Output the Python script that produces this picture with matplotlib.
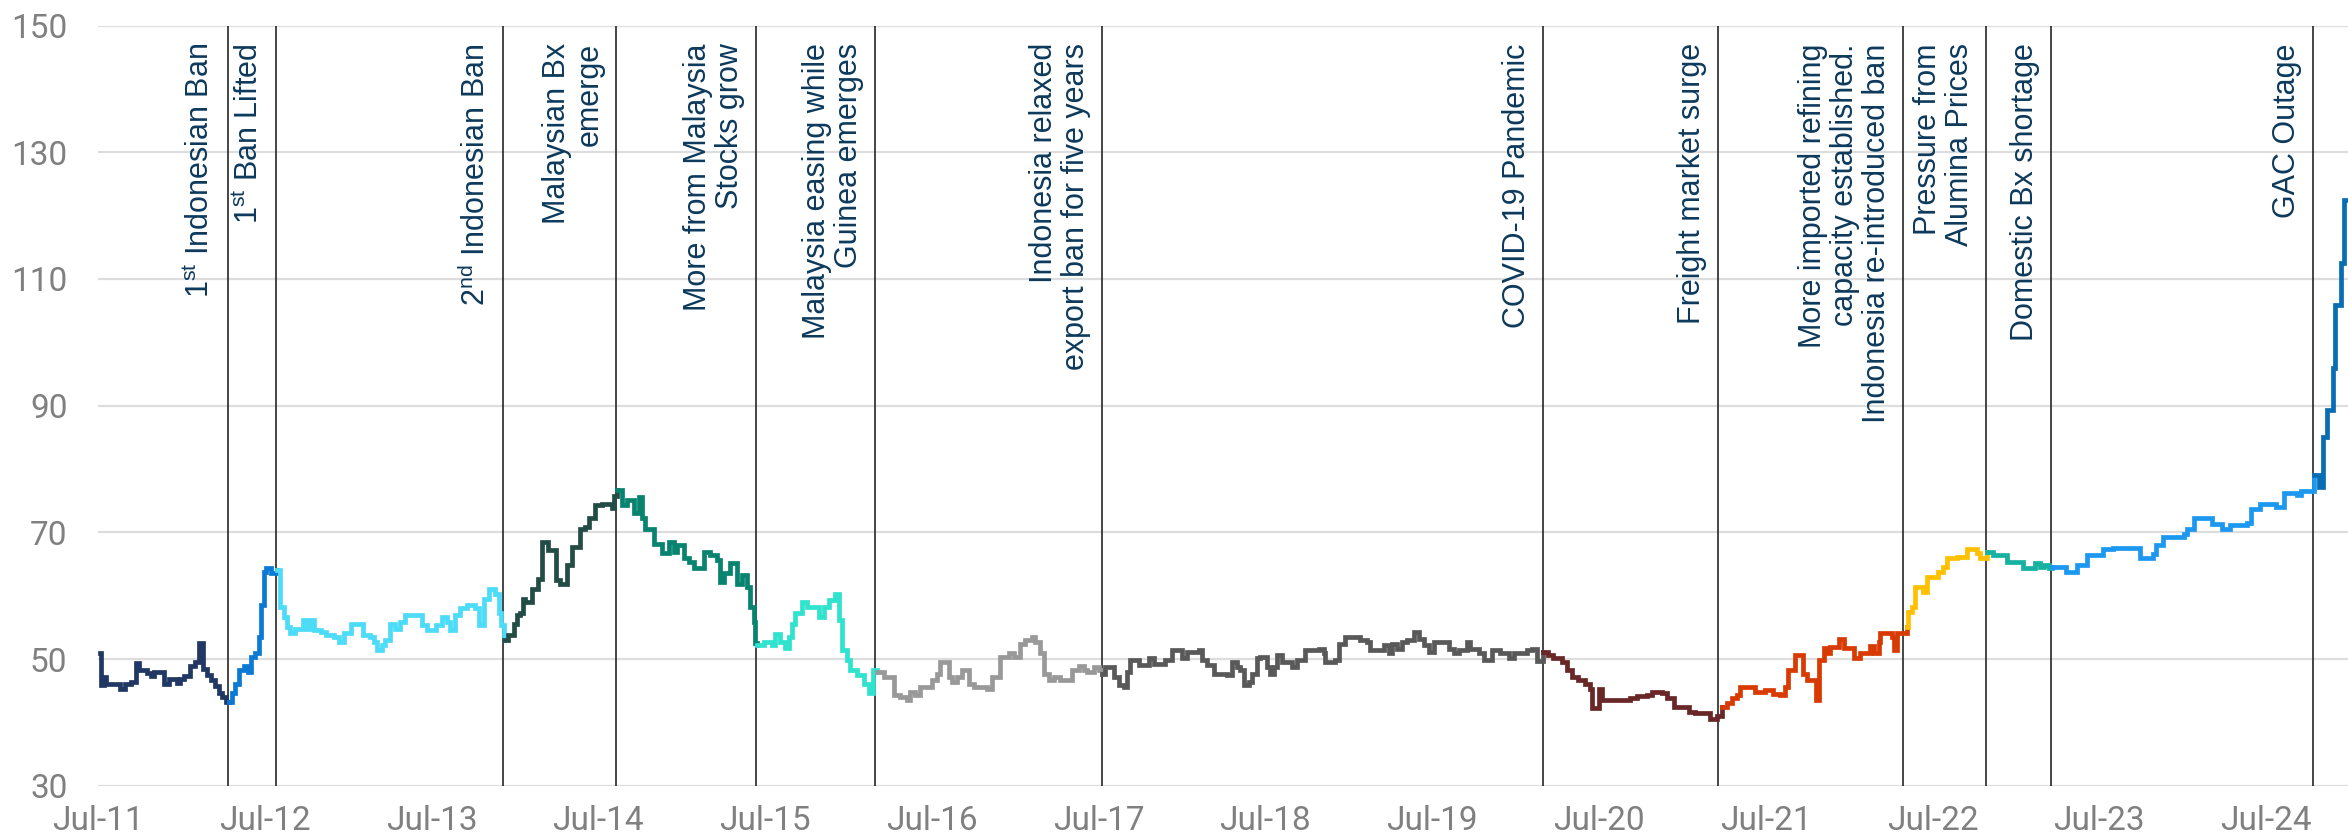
import numpy as np
import matplotlib
matplotlib.use("Agg")
import matplotlib.pyplot as plt

plt.rcParams['mathtext.fontset'] = 'custom'
plt.rcParams['mathtext.rm'] = 'Liberation Sans'
plt.rcParams['mathtext.it'] = 'Liberation Sans:italic'
plt.rcParams['mathtext.bf'] = 'Liberation Sans:bold'

# x = months since Jul-2011, y = price index (weekly series)
months = [
    0.11, 0.18, 0.42, 0.54, 1.57, 1.93, 2.34, 2.70, 2.94, 3.54, 3.78, 4.06, 4.74, 5.10, 5.65, 5.89, 6.22,
    6.61, 7.01, 7.28, 7.57, 7.85, 8.14, 8.45, 8.69, 8.93, 9.24,
    9.41, 9.65, 9.89, 10.13, 10.49, 10.80, 11.02, 11.33, 11.57, 11.76, 11.91, 12.12, 12.46,
    12.89, 13.08, 13.37, 13.61, 13.85, 14.21, 14.76, 15.05, 15.36, 15.57, 16.01, 16.37, 16.97, 17.33,
    17.69, 18.17, 19.08, 19.60, 19.89, 20.08, 20.44, 20.68, 20.99, 21.40, 21.76, 22.12, 23.32, 23.68,
    24.35, 24.76, 25.12, 25.36, 25.72, 26.08, 26.56, 27.16, 27.40, 27.76, 28.12, 28.60, 28.84, 29.01,
    29.20, 29.49, 29.92, 30.16, 30.40, 30.59, 30.76, 31.24, 31.67, 31.96, 32.36, 32.92, 33.27, 33.75,
    34.11, 34.71, 35.03, 35.31, 35.79, 36.27, 36.99, 37.16,
    37.35, 37.71, 38.07, 38.55, 38.91, 39.15, 39.39, 39.99, 40.59, 41.07, 41.43, 41.67, 42.15, 42.51,
    42.87, 43.59, 44.07, 44.55, 44.79, 45.03, 45.51, 45.98, 46.34, 46.70, 46.94, 47.18, 47.30,
    47.42, 47.90, 48.50, 48.74, 49.10, 49.46, 49.70, 49.94, 50.18, 50.66, 51.02, 51.86, 52.22, 52.58,
    53.06, 53.30, 53.54, 53.90, 54.14, 54.62, 55.10, 55.46, 55.75,
    56.06, 56.54, 57.26, 57.74, 58.22, 58.46, 58.82, 59.18, 60.02, 60.38, 60.62, 61.21, 61.45, 61.81,
    62.17, 62.65, 63.01, 63.97, 64.33, 64.93, 65.53, 65.89, 66.37, 66.73, 67.21, 67.45, 67.81, 68.05,
    68.41, 68.77, 69.25, 70.09, 70.57, 70.93, 71.17, 71.65, 72.01,
    72.25, 72.49, 73.09, 73.45, 73.80, 74.04, 74.28, 74.88, 75.60, 75.96, 76.56, 76.80, 77.28, 77.99,
    78.36, 79.20, 79.44, 79.80, 80.28, 81.24, 81.60, 81.96, 82.20, 82.44, 82.80, 83.04, 83.40, 83.63,
    84.11, 84.35, 84.59, 84.83, 85.19, 85.91, 86.27, 86.87, 87.83, 88.19, 88.31, 89.03, 89.27, 89.74,
    90.82, 91.30, 91.54, 92.50, 92.86, 93.10, 93.46, 93.82, 94.18, 94.66, 95.02, 95.38, 95.74, 96.10,
    97.18, 97.54, 97.90, 98.50, 98.74, 99.34, 99.70, 100.30, 100.90, 101.50, 101.86, 102.81, 103.17,
    103.53,
    104.01, 104.37, 104.73, 105.33, 105.69, 106.05, 106.53, 107.01, 107.37, 107.49, 107.97, 108.21,
    110.25, 110.73, 111.45, 111.81, 112.53, 112.89, 113.37, 114.45, 114.93, 116.01, 116.49,
    116.85, 117.20, 117.56, 117.92, 118.16, 119.24, 119.96, 120.56, 121.04, 121.40, 121.64, 122.12,
    122.72, 122.96, 123.63, 123.87, 124.16, 124.40, 124.64, 125.24, 125.60, 126.32, 126.80, 127.52,
    127.76, 128.12, 128.24, 129.08, 129.20, 129.44,
    130.15, 130.27, 130.51, 130.75, 131.35, 131.59, 132.43, 132.79, 133.03, 133.75, 134.47, 135.19,
    135.43,
    135.91, 136.39, 137.35, 138.55, 139.39, 139.75, 140.00, 140.40,
    140.60, 141.60, 142.40, 143.10, 144.30, 145.00, 146.20, 146.90, 147.90, 148.10, 148.60, 150.10,
    150.30, 150.80, 152.10, 152.80, 153.40, 154.60, 154.90, 155.60, 156.70, 157.30, 158.20, 158.50,
    159.30,
    159.45, 159.80, 160.10, 160.40, 160.80, 161.00, 161.40, 161.60, 161.90,
]
price = [
    51.0, 45.9, 47.1, 46.0, 45.3, 46.1, 46.4, 49.4, 48.2, 47.8, 47.3, 48.0, 46.1, 46.8, 46.2, 46.9, 47.3,
    48.9, 49.5, 52.6, 48.5, 47.4, 46.7, 45.8, 44.6, 44.0, 43.2,
    43.2, 44.6, 46.1, 48.2, 48.9, 48.0, 50.3, 50.9, 53.5, 58.5, 63.8, 64.4, 63.5,
    64.0, 58.2, 56.7, 55.1, 54.1, 54.8, 56.1, 54.8, 56.1, 54.6, 54.3, 53.8, 53.5, 52.7,
    54.1, 55.5, 53.8, 53.5, 52.7, 51.4, 52.2, 53.0, 55.6, 54.8, 55.9, 56.9, 55.4, 54.6,
    55.4, 56.6, 55.9, 54.6, 56.9, 58.0, 58.5, 58.0, 55.4, 59.5, 61.1, 60.3, 57.2, 55.4,
    53.0, 53.8, 55.5, 56.9, 57.2, 59.5, 59.0, 61.1, 62.7, 68.5, 67.2, 62.4, 61.9, 64.8,
    67.7, 70.5, 70.9, 72.2, 74.3, 74.5, 73.8, 75.8,
    76.7, 74.3, 75.1, 73.0, 75.6, 72.2, 70.6, 68.2, 66.7, 68.5, 66.9, 68.0, 65.9, 65.3,
    64.3, 66.9, 66.4, 65.6, 62.2, 63.5, 65.1, 61.9, 63.2, 61.4, 58.2, 55.9, 52.5,
    52.2, 52.7, 52.2, 54.0, 52.7, 51.7, 53.5, 55.6, 57.2, 59.0, 58.2, 56.6, 58.2, 59.3,
    60.2, 56.1, 51.4, 49.8, 48.2, 47.4, 46.1, 44.6, 48.2,
    48.0, 47.2, 44.3, 44.0, 43.5, 44.8, 44.3, 45.6, 46.7, 47.7, 49.6, 47.2, 46.4, 47.2,
    48.2, 46.1, 45.6, 45.2, 47.2, 50.3, 50.9, 50.3, 52.4, 53.0, 53.5, 52.7, 50.9, 47.7,
    46.7, 47.2, 46.7, 48.2, 48.9, 48.2, 47.9, 48.8, 48.2,
    47.7, 48.8, 47.2, 45.9, 45.6, 48.0, 49.8, 49.0, 50.1, 49.2, 49.2, 49.8, 51.4, 50.1,
    51.1, 51.4, 49.8, 49.0, 47.7, 47.4, 49.6, 48.8, 48.2, 45.9, 46.4, 47.7, 50.1, 50.3,
    48.8, 47.7, 48.8, 50.6, 49.6, 48.8, 49.8, 51.4, 51.6, 50.9, 49.6, 49.9, 52.4, 53.5,
    53.0, 52.7, 51.4, 52.2, 50.9, 52.4, 51.6, 52.7, 53.0, 54.3, 53.2, 52.2, 51.1, 52.7,
    51.6, 50.9, 51.4, 52.7, 51.6, 50.9, 49.8, 51.4, 50.9, 50.1, 50.9, 51.4, 51.6,
    49.7,
    51.1, 50.6, 50.1, 49.6, 48.2, 47.2, 46.7, 46.1, 45.3, 42.2, 45.2, 43.5,
    43.8, 44.1, 44.3, 44.8, 44.6, 43.8, 42.5, 41.7, 41.4, 40.6, 41.0,
    42.4, 43.0, 43.8, 44.3, 45.6, 44.8, 45.1, 44.5, 44.3, 45.6, 48.2, 50.6,
    47.7, 46.7, 43.5, 49.8, 51.7, 50.9, 51.9, 53.1, 51.7, 50.2, 50.9, 52.1,
    50.9, 52.7, 54.1, 53.5, 51.4, 54.1,
    55.1, 57.4, 58.2, 61.4, 60.6, 63.0, 63.8, 64.6, 65.9, 66.1, 67.3, 66.7,
    65.9,
    66.9, 66.4, 65.3, 64.3, 65.1, 64.6, 64.8, 64.3,
    64.5, 63.7, 64.8, 66.4, 67.3, 67.6, 67.5, 66.0, 66.5, 68.0, 69.3, 69.8,
    70.6, 72.3, 71.3, 70.6, 71.1, 71.4, 73.6, 74.4, 74.0, 76.2, 75.9, 76.5,
    76.5,
    79.0, 77.2, 85.1, 89.3, 95.9, 105.9, 112.5, 122.4, 122.4,
]

event_months = [9.32, 12.79, 29.15, 37.25, 47.37, 55.94, 72.24, 104.01, 116.60,
                129.91, 135.86, 140.56, 159.37]
event_labels = [
    r"1$^{\mathrm{st}}$ Indonesian Ban",
    r"1$^{\mathrm{st}}$ Ban Lifted",
    r"2$^{\mathrm{nd}}$ Indonesian Ban",
    "Malaysian Bx\nemerge",
    "More from Malaysia\nStocks grow",
    "Malaysia easing while\nGuinea emerges",
    "Indonesia relaxed\nexport ban for five years",
    "COVID-19 Pandemic",
    "Freight market surge",
    "More imported refining\ncapacity established.\nIndonesia re-introduced ban",
    "Pressure from\nAlumina Prices",
    "Domestic Bx shortage",
    "GAC Outage",
]
segment_colors = ['#213864', '#0B7AD4', '#4CDCF8', '#234C45', '#08836F', '#30E3CF',
                  '#999999', '#595959', '#6A2727', '#D83B01', '#FFC000', '#16B1A0',
                  '#1C98F0', '#086DB3']

tick_months = [0, 12, 24, 36, 48, 60, 72, 84, 96, 108, 120, 132, 144, 156]
tick_labels = ['Jul-11', 'Jul-12', 'Jul-13', 'Jul-14', 'Jul-15', 'Jul-16', 'Jul-17',
               'Jul-18', 'Jul-19', 'Jul-20', 'Jul-21', 'Jul-22', 'Jul-23', 'Jul-24']
y_ticks = [30, 50, 70, 90, 110, 130, 150]

fig = plt.figure(figsize=(23.48, 8.4), dpi=100)
ax = fig.add_axes([0.04174, 0.06464, 0.95826, 0.905])

m = np.array(months)
p = np.array(price)
bounds = [-np.inf] + event_months + [np.inf]
for i, col in enumerate(segment_colors):
    idx = np.where((m >= bounds[i]) & (m < bounds[i + 1]))[0]
    if len(idx) == 0:
        continue
    if idx[-1] + 1 < len(m):
        idx = np.append(idx, idx[-1] + 1)
    ax.plot(m[idx], p[idx], color=col, lw=3.4, drawstyle='steps-post',
            solid_joinstyle='miter', zorder=3)

for em, lab in zip(event_months, event_labels):
    ax.axvline(em, color='#262626', lw=1.2, zorder=2)
    ax.annotate(lab, xy=(em, 147.2), xytext=(-8, 0), textcoords='offset points',
                rotation=90, ha='right', va='top', multialignment='right',
                fontsize=22, family='Liberation Sans', color='#0D3A5C',
                linespacing=1.1, zorder=4)

ax.set_xlim(0, 161.9)
ax.set_ylim(30, 150)
ax.set_yticks(y_ticks)
ax.set_xticks(tick_months)
ax.set_xticklabels(tick_labels)
ax.yaxis.grid(True, color='#DDDDDD', lw=1.6, zorder=0)
ax.set_axisbelow(True)
for s in ax.spines.values():
    s.set_visible(False)
ax.tick_params(axis='both', length=0, colors='#808080', labelsize=24)
ax.tick_params(axis='y', pad=22)
ax.tick_params(axis='x', pad=14)
for lab in ax.get_xticklabels() + ax.get_yticklabels():
    lab.set_family('Roboto')

fig.savefig('out.png', dpi=100)
